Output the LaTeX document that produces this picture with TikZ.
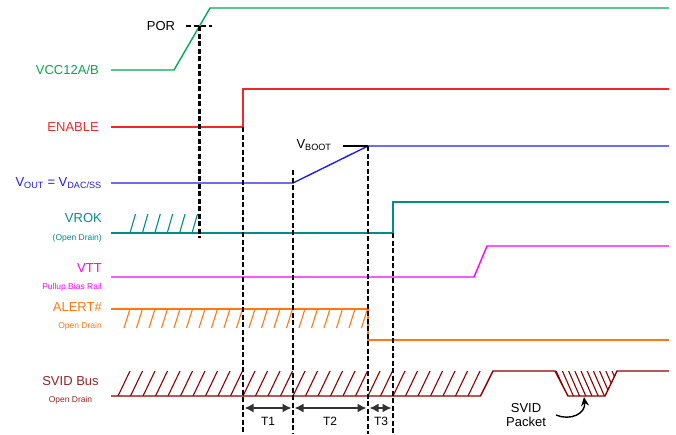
\documentclass[tikz,border=0pt]{standalone}
\usepackage{fontspec}
\setmainfont{Liberation Sans}
\usetikzlibrary{arrows.meta}
\definecolor{cvcc}{RGB}{0,170,80}
\definecolor{cen}{RGB}{240,40,40}
\definecolor{cvout}{RGB}{30,30,230}
\definecolor{cvrok}{RGB}{0,140,140}
\definecolor{cvtt}{RGB}{255,0,255}
\definecolor{calert}{RGB}{255,120,20}
\definecolor{csvid}{RGB}{140,0,0}
\definecolor{csvidlbl}{RGB}{150,35,35}
\definecolor{carrow}{RGB}{50,50,50}
\begin{document}
\begin{tikzpicture}[x=1pt,y=-1pt,
  sig/.style={line width=1.4pt},
  hatch/.style={line width=1.1pt},
  vdash/.style={black, line width=2.4pt, dash pattern=on 5pt off 2.5pt},
  lbl/.style={font=\fontsize{13}{15}\selectfont, inner sep=0pt, anchor=east},
  sm/.style={font=\fontsize{8.5}{10}\selectfont, inner sep=0pt, anchor=east},
  tlbl/.style={font=\fontsize{12}{14}\selectfont, inner sep=0pt},
  tarrow/.style={{Latex[length=9pt,width=9pt]}-{Latex[length=9pt,width=9pt]}, line width=1.6pt, carrow}]
\useasboundingbox (0,0) rectangle (676,434);

% ---- labels ----
\node[lbl, cvcc] (lvcc) at (99,70) {VCC12A/B};
\node[font=\fontsize{13}{15}\selectfont, inner sep=0pt] (lpor) at (161,26) {POR};
\node[lbl, cen] (len) at (99,127) {ENABLE};
\node[lbl, cvout] (lvout) at (102,183) {V\textsubscript{OUT} = V\textsubscript{DAC/SS}};
\node[lbl, cvrok] (lvrok) at (102,218) {VROK};
\node[sm, cvrok] (lvrok2) at (102,238) {(Open Drain)};
\node[lbl, cvtt] (lvtt) at (102,268) {VTT};
\node[sm, cvtt] (lvtt2) at (102,287) {Pullup Bias Rail};
\node[lbl, calert] (lalert) at (102,307) {ALERT\#};
\node[sm, calert] (lalert2) at (102,326) {Open Drain};
\node[font=\fontsize{13}{15}\selectfont, inner sep=0pt, csvidlbl] (lsvid) at (70.5,381) {SVID Bus};
\node[font=\fontsize{8.5}{10}\selectfont, inner sep=0pt, csvidlbl] (lsvid2) at (70.5,400) {Open Drain};
\node[font=\fontsize{13}{15}\selectfont, inner sep=0pt] (lvboot) at (314,145) {V\textsubscript{BOOT}};
\node[font=\fontsize{13}{15}\selectfont, inner sep=0pt, align=center] (lpkt) at (526,415) {SVID\\[-1pt]Packet};

% ---- VCC12A/B ----
\draw[sig, cvcc] (111,70) -- (174,70) -- (210,8) -- (669,8);
% ---- ENABLE ----
\draw[sig, cen] (111,127) -- (243,127) -- (243,89) -- (669,89);
% ---- VOUT ----
\draw[sig, cvout] (111,183) -- (293,183) -- (368,146) -- (669,146);
\coordinate (vbl) at (343,146);
\coordinate (vbr) at (368,146);
\draw[sig, black] (vbl) -- (vbr);
% ---- VROK ----
\draw[sig, cvrok] (111,233) -- (393,233) -- (393,202) -- (669,202);
\foreach \k in {0,...,5} {
  \draw[hatch, cvrok] ({130+12.4*\k},233) -- ({135.5+12.4*\k},214);
}
% ---- VTT ----
\draw[sig, cvtt] (111,277) -- (474,277) -- (487,246) -- (669,246);
% ---- ALERT# ----
\draw[sig, calert] (111,309) -- (368,309) -- (368,340) -- (669,340);
\foreach \k in {0,...,19} {
  \draw[hatch, calert] ({130+12.5*\k},309) -- ({124+12.5*\k},328);
}
% ---- SVID Bus ----
\draw[sig, csvid] (111,396) -- (480.5,396) -- (493,371) -- (555,371) -- (568,396) -- (605,396) -- (617,371) -- (669,371);
\foreach \k in {0,...,28} {
  \draw[hatch, csvid] ({118+12.5*\k},396) -- ({130+12.5*\k},371);
}
\begin{scope}
  \clip (555,371) -- (568,396) -- (605,396) -- (617,371) -- cycle;
  \foreach \k in {0,...,11} {
    \draw[hatch, csvid] ({550+6.2*\k},371) -- ({561+6.2*\k},396);
  }
\end{scope}

% ---- dashed markers ----
\coordinate (pora) at (186,26);
\coordinate (porb) at (212,26);
\draw[vdash] (pora) -- (porb);
\coordinate (d0t) at (199.5,26);  \coordinate (d0b) at (199.5,238);
\coordinate (d1t) at (243,127);   \coordinate (d1b) at (243,434);
\coordinate (d2t) at (293,170);   \coordinate (d2b) at (293,434);
\coordinate (d3t) at (368,146);   \coordinate (d3b) at (368,434);
\coordinate (d4t) at (393,233);   \coordinate (d4b) at (393,434);
\draw[vdash] (d0t) -- (d0b);
\draw[vdash] (d1t) -- (d1b);
\draw[vdash] (d2t) -- (d2b);
\draw[vdash] (d3t) -- (d3b);
\draw[vdash] (d4t) -- (d4b);

% ---- timing arrows ----
\coordinate (a1) at (244.5,408);
\coordinate (a2) at (291.5,408);
\coordinate (a3) at (294.5,408);
\coordinate (a4) at (366.5,408);
\coordinate (a5) at (369.5,408);
\coordinate (a6) at (391.5,408);
\draw[tarrow] (a1) -- (a2);
\draw[tarrow] (a3) -- (a4);
\draw[tarrow] (a5) -- (a6);
\node[tlbl] (t1) at (268,421) {T1};
\node[tlbl] (t2) at (330,421) {T2};
\node[tlbl] (t3) at (381,421) {T3};

% ---- packet arrow ----
\coordinate (pk0) at (556,415);
\coordinate (pk1) at (584,397);
\draw[-{Stealth[length=9pt,width=8pt]}, line width=1.4pt, black] (pk0) .. controls (570,421) and (586,414) .. (pk1);
\end{tikzpicture}
\end{document}
